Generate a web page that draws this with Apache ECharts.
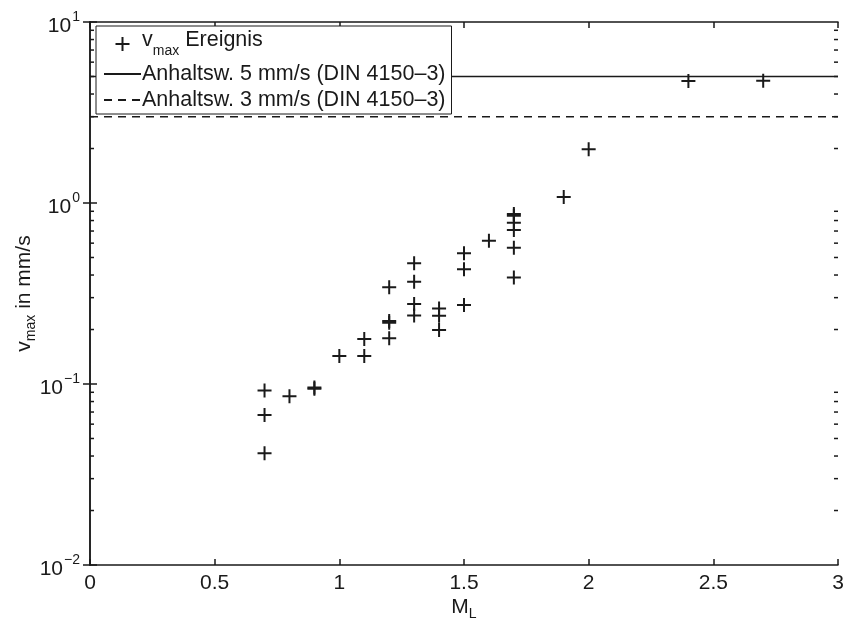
<!DOCTYPE html>
<html>
<head>
<meta charset="utf-8">
<script src="https://cdn.jsdelivr.net/npm/echarts@6/dist/echarts.min.js"></script>
<style>
    html, body { margin: 0; padding: 0; background: #fff; }
    #chart { width: 857px; height: 619px; }
</style>
</head>
<body>
<div id="chart"></div>
<script>
// Magnitude M_L and peak velocity v_max (mm/s) per event
var magnitude = [0.7, 0.7, 0.7, 0.8, 0.9, 0.9, 1.0, 1.1, 1.1, 1.2, 1.2, 1.2, 1.2,
                 1.3, 1.3, 1.3, 1.3, 1.4, 1.4, 1.4, 1.5, 1.5, 1.5, 1.6,
                 1.7, 1.7, 1.7, 1.7, 1.7, 1.7, 1.9, 2.0, 2.4, 2.7]
var vmax = [0.0414, 0.0674, 0.092, 0.0855, 0.094, 0.0955, 0.143, 0.143, 0.177, 0.179, 0.218, 0.223, 0.342,
            0.239, 0.277, 0.367, 0.465, 0.199, 0.238, 0.261, 0.273, 0.430, 0.527, 0.619,
            0.387, 0.566, 0.709, 0.778, 0.85, 0.87, 1.08, 1.98, 4.72, 4.74]

// reference values DIN 4150-3
var refX = [0, 3]
var ref5 = [5, 5]
var ref3 = [3, 3]

var yDecades = [0.01, 0.1, 1, 10]

var font = 'Liberation Sans, Arial, Helvetica, sans-serif'
var black = '#1a1a1a'

var points = []
for (var i = 0; i < magnitude.length; i++) {
    points.push([magnitude[i], vmax[i]])
}
var line5 = [], line3 = []
for (var i = 0; i < refX.length; i++) {
    line5.push([refX[i], ref5[i]])
    line3.push([refX[i], ref3[i]])
}

// minor ticks 2..9 per decade (left and right frame)
var minorTicks = []
for (var d = 0; d < yDecades.length - 1; d++) {
    for (var k = 2; k <= 9; k++) {
        minorTicks.push([0, k * yDecades[d]])
    }
}

var plus = 'path://M-1,-7 L1,-7 L1,-1 L7,-1 L7,1 L1,1 L1,7 L-1,7 L-1,1 L-7,1 L-7,-1 L-1,-1 Z'

function powLabel(value) {
    var e = Math.round(Math.log(value) / Math.LN10)
    return '{b|10}{s|' + (e < 0 ? '\u2212' + (-e) : e) + '}'
}

var chart = echarts.init(document.getElementById('chart'))
var option = {
    animation: false,
    textStyle: { fontFamily: font },
    grid: { left: 90, right: 19, top: 22, bottom: 54, outerBoundsMode: 'none', containLabel: false },
    xAxis: [{
        type: 'value',
        min: 0, max: 3, interval: 0.5,
        name: '{m|M}{l|L}',
        nameLocation: 'middle',
        nameGap: 28,
        nameMoveOverlap: false,
        nameTextStyle: {
            rich: {
                m: { fontSize: 21, color: black, fontFamily: font },
                l: { fontSize: 14, color: black, fontFamily: font, padding: [14, 0, 0, 0] }
            }
        },
        axisLine: { lineStyle: { color: black, width: 1.5 } },
        axisTick: { inside: true, length: 6, lineStyle: { color: black, width: 1.5 } },
        axisLabel: { fontSize: 21, color: black, margin: 8 },
        splitLine: { show: false }
    }, {
        type: 'value', position: 'top',
        min: 0, max: 3, interval: 0.5,
        axisLine: { lineStyle: { color: black, width: 1.5 } },
        axisTick: { inside: true, length: 6, lineStyle: { color: black, width: 1.5 } },
        axisLabel: { show: false },
        splitLine: { show: false }
    }],
    yAxis: [{
        type: 'log', logBase: 10,
        min: 0.01, max: 10,
        name: '{v|v}{s|max}{t| in mm/s}',
        nameLocation: 'middle',
        nameGap: 52,
        nameMoveOverlap: false,
        nameTextStyle: {
            rich: {
                v: { fontSize: 21, color: black, fontFamily: font },
                s: { fontSize: 14, color: black, fontFamily: font, padding: [14, 0, 0, 0] },
                t: { fontSize: 21, color: black, fontFamily: font }
            }
        },
        axisLine: { show: true, lineStyle: { color: black, width: 1.5 } },
        axisTick: { inside: true, length: 7, lineStyle: { color: black, width: 1.5 } },
        axisLabel: {
            margin: 10,
            formatter: powLabel,
            rich: {
                b: { fontSize: 21, color: black, fontFamily: font, padding: [8, 0, 0, 0] },
                s: { fontSize: 14, color: black, fontFamily: font, padding: [0, 0, 10, 1] }
            }
        },
        splitLine: { show: false }
    }, {
        type: 'log', logBase: 10, position: 'right',
        min: 0.01, max: 10,
        axisLine: { show: true, lineStyle: { color: black, width: 1.5 } },
        axisTick: { inside: true, length: 7, lineStyle: { color: black, width: 1.5 } },
        axisLabel: { show: false },
        splitLine: { show: false }
    }],
    legend: {
        left: 96, top: 26,
        orient: 'vertical',
        backgroundColor: '#fff',
        borderColor: black,
        borderWidth: 1,
        borderRadius: 0,
        padding: [3, 6, 3, 7],
        itemGap: 4,
        itemWidth: 37,
        itemHeight: 14,
        selectedMode: false,
        data: [
            { name: 'vmax' },
            { name: 'ref5', itemStyle: { opacity: 0 } },
            { name: 'ref3', itemStyle: { opacity: 0 } }
        ],
        formatter: function (name) {
            if (name === 'vmax') return '{a|v}{s|max}{a| Ereignis}'
            if (name === 'ref5') return '{t|Anhaltsw. 5 mm/s (DIN 4150\u20133)}'
            return '{t|Anhaltsw. 3 mm/s (DIN 4150\u20133)}'
        },
        textStyle: {
            padding: [0, 0, 0, -4],
            rich: {
                a: { fontSize: 21.5, color: black, fontFamily: font, lineHeight: 22, padding: [0, 0, 8, 0] },
                s: { fontSize: 14, color: black, fontFamily: font, lineHeight: 16, padding: [14, 0, 0, 0] },
                t: { fontSize: 21.5, color: black, fontFamily: font, lineHeight: 25 }
            }
        }
    },
    series: [{
        name: 'vmax',
        type: 'scatter',
        data: points,
        symbol: plus,
        symbolSize: 14,
        symbolKeepAspect: true,
        itemStyle: { color: black, opacity: 1 },
        z: 3
    }, {
        name: 'ref5',
        type: 'line',
        data: line5,
        symbol: 'none',
        lineStyle: { color: black, width: 1.5, type: 'solid' },
        itemStyle: { color: black },
        z: 2
    }, {
        name: 'ref3',
        type: 'line',
        data: line3,
        symbol: 'none',
        lineStyle: { color: black, width: 1.5, type: [8, 6] },
        itemStyle: { color: black },
        z: 2
    }, {
        name: 'minor',
        type: 'custom',
        data: minorTicks,
        silent: true,
        clip: false,
        renderItem: function (params, api) {
            var left = api.coord([0, api.value(1)])
            var right = api.coord([3, api.value(1)])
            var style = { stroke: black, lineWidth: 1.5 }
            return {
                type: 'group',
                children: [
                    { type: 'line', shape: { x1: left[0], y1: left[1], x2: left[0] + 4, y2: left[1] }, style: style },
                    { type: 'line', shape: { x1: right[0] - 4, y1: right[1], x2: right[0], y2: right[1] }, style: style }
                ]
            }
        },
        z: 1
    }]
}
chart.setOption(option)
</script>
</body>
</html>
